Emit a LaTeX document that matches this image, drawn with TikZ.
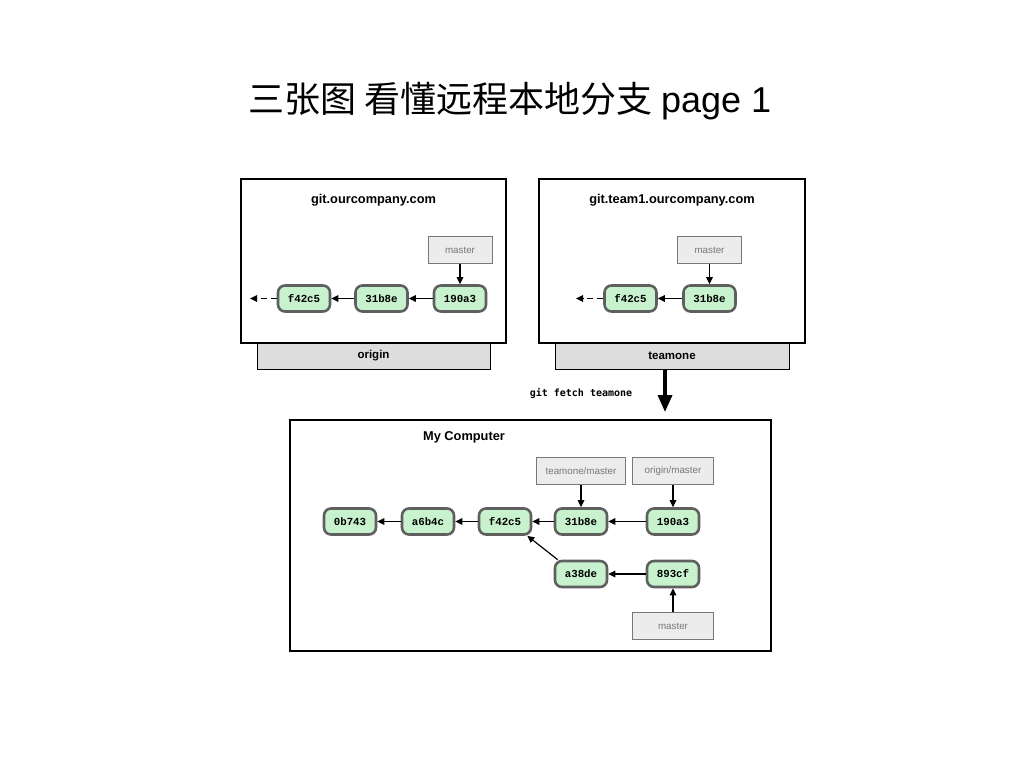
\documentclass[tikz,border=0pt]{standalone}
\usepackage{fontspec}
\setmainfont{Liberation Sans}
\setmonofont{Liberation Mono}
\newfontfamily\cjkfont{Noto Sans CJK SC}
\newfontfamily\shellfont{DejaVu Sans Mono}
\usetikzlibrary{arrows.meta}
\definecolor{verdecito}{RGB}{200,242,206}
\definecolor{bordecommit}{RGB}{95,95,95}
\definecolor{grisclaro}{RGB}{236,236,236}
\definecolor{grisbarra}{RGB}{221,221,221}
\definecolor{gristexto}{RGB}{120,120,120}
\tikzset{>={Triangle[length=7pt,width=6.5pt]}}
\tikzset{
  commit/.style={draw=bordecommit, line width=2.6pt, fill=verdecito, rounded corners=7pt,
    minimum width=52pt, minimum height=26pt, inner sep=0pt,
    font=\ttfamily\bfseries\fontsize{10.8}{12}\selectfont},
  refbox/.style={draw=gristexto, line width=1pt, fill=grisclaro, minimum height=27pt,
    inner sep=0pt, text=gristexto, font=\fontsize{9.8}{11}\selectfont},
  server/.style={draw, line width=1.4pt, inner sep=0pt},
  remotebar/.style={draw, line width=1pt, fill=grisbarra, minimum height=26pt, inner sep=0pt,
    font=\bfseries\fontsize{11.5}{13}\selectfont},
  boxtitle/.style={font=\bfseries\fontsize{12.8}{14}\selectfont},
  parent/.style={->, line width=1.2pt},
}

\begin{document}
\begin{tikzpicture}[x=1pt,y=-1pt]
	\useasboundingbox[fill=white] (0,0) rectangle (1024,768);

	\node[font=\cjkfont\fontsize{36}{40}\selectfont] (title) at (510,101) {三张图 看懂远程本地分支 {\rmfamily page 1}};

	% origin
	\node[remotebar, minimum width=233pt] (originbar) at (373.5,356) {origin};
	\node[server, fill=white, minimum width=265pt, minimum height=164pt] (srvorigin) at (373.5,261) {};
	\node[boxtitle] (originname) at (373.5,200) {git.ourcompany.com};
	\node[refbox, minimum width=64pt] (omaster) at (460,250) {master};
	\node[commit] (of42c5) at (304,298.5) {f42c5};
	\node[commit] (o31b8e) at (381.5,298.5) {31b8e};
	\node[commit] (o190a3) at (460,298.5) {190a3};
	\coordinate (otail) at (250,298.5);
	\draw[parent] (omaster) -- (o190a3);
	\draw[parent] (o190a3) -- (o31b8e);
	\draw[parent] (o31b8e) -- (of42c5);
	\draw[parent, dash pattern=on 6pt off 4pt] (of42c5) -- (otail);

	% teamone
	\node[remotebar, minimum width=234pt] (teamonebar) at (672,356) {teamone};
	\node[server, fill=white, minimum width=266pt, minimum height=164pt] (srvteamone) at (672,261) {};
	\node[boxtitle] (teamonename) at (672,200) {git.team1.ourcompany.com};
	\node[refbox, minimum width=64pt] (tmaster) at (709.5,250) {master};
	\node[commit] (tf42c5) at (630.5,298.5) {f42c5};
	\node[commit] (t31b8e) at (709.5,298.5) {31b8e};
	\coordinate (ttail) at (576,298.5);
	\draw[parent] (tmaster) -- (t31b8e);
	\draw[parent] (t31b8e) -- (tf42c5);
	\draw[parent, dash pattern=on 6pt off 4pt] (tf42c5) -- (ttail);

	% fetch
	\coordinate (fetchtop) at (665,370);
	\coordinate (fetchbottom) at (665,412);
	\draw[line width=3.5pt, -{Triangle[length=17pt,width=14pt]}] (fetchtop) -- (fetchbottom);
	\node[font=\shellfont\bfseries\fontsize{10}{12}\selectfont] (fetchcmd) at (581,393) {git fetch teamone};

	% local
	\node[server, minimum width=481pt, minimum height=231pt] (mycomputer) at (530.5,535.5) {};
	\node[boxtitle] (localname) at (464,437) {My Computer};
	\node[refbox, minimum width=89pt] (ltmref) at (581,471) {teamone/master};
	\node[refbox, minimum width=81pt] (lomref) at (673,471) {origin/master};
	\node[refbox, minimum width=81pt] (lmaster) at (673,626) {master};
	\node[commit] (l0b743) at (350,521.5) {0b743};
	\node[commit] (la6b4c) at (428,521.5) {a6b4c};
	\node[commit] (lf42c5) at (505,521.5) {f42c5};
	\node[commit] (l31b8e) at (581,521.5) {31b8e};
	\node[commit] (l190a3) at (673,521.5) {190a3};
	\node[commit] (la38de) at (581,574) {a38de};
	\node[commit] (l893cf) at (673,574) {893cf};
	\draw[parent] (ltmref) -- (l31b8e);
	\draw[parent] (lomref) -- (l190a3);
	\draw[parent] (lmaster) -- (l893cf);
	\draw[parent] (l190a3) -- (l31b8e);
	\draw[parent] (l31b8e) -- (lf42c5);
	\draw[parent] (lf42c5) -- (la6b4c);
	\draw[parent] (la6b4c) -- (l0b743);
	\draw[parent] (l893cf) -- (la38de);
	\draw[parent] ([xshift=4pt]la38de.north west) -- ([xshift=-5pt]lf42c5.south east);
\end{tikzpicture}
\end{document}
